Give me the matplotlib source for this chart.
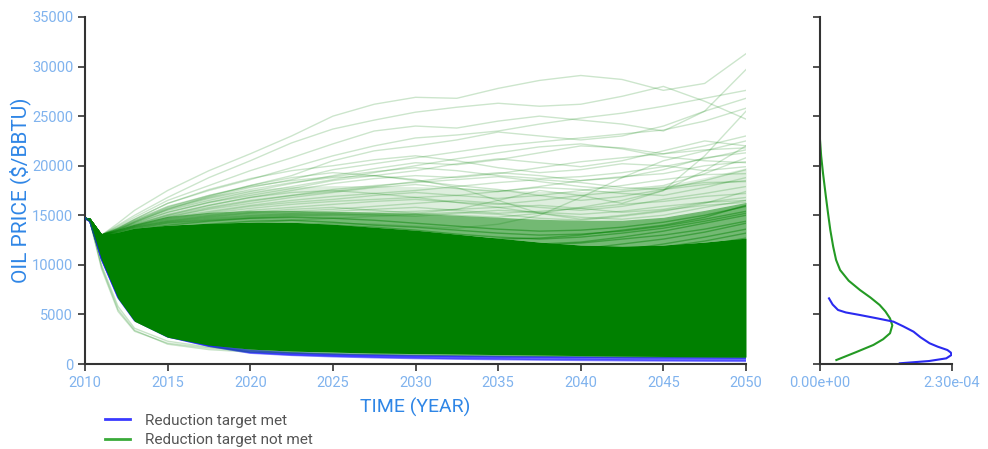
import matplotlib
matplotlib.use("Agg")
import matplotlib.pyplot as plt
from matplotlib.lines import Line2D

plt.rcParams['font.family'] = ['Roboto', 'DejaVu Sans']

# ---- time grid -------------------------------------------------------------
years = [2010, 2010.3, 2011, 2012, 2013, 2015, 2017.5, 2020, 2022.5, 2025,
         2027.5, 2030, 2032.5, 2035, 2037.5, 2040, 2042.5, 2045, 2047.5, 2050]
start_prices = [14700, 14600, 13000]   # common start of the upper paths (2010-2011)

# ---- bulk of the "target not met" ensemble --------------------------------
bulk_low = [14700, 14400, 10500, 6600, 4300, 2700, 1900, 1500, 1300, 1200,
            1100, 1050, 1000, 950, 900, 850, 800, 760, 730, 700]
bulk_core_top = [14700, 14600, 13000, 13300, 13700, 14000, 14200, 14300, 14300, 14100,
                 13800, 13500, 13100, 12700, 12300, 12000, 11900, 12000, 12300, 12700]
bulk_dense_top = [14700, 14600, 13000, 13600, 14100, 14900, 15300, 15500, 15500, 15400,
                  15300, 15200, 15000, 14800, 14600, 14500, 14500, 14800, 15500, 16300]
bulk_sparse_top = [14700, 14600, 13000, 13800, 14700, 16000, 17000, 17600, 17900, 18000,
                   18000, 17900, 17800, 17600, 17400, 17400, 17600, 18000, 18800, 19800]

# ---- individual high-price paths (2012..2050) ------------------------------
high_paths = [
    [14200, 15500, 17500, 19500, 21200, 23000, 25000, 26200, 26900, 26800, 27800, 28600, 29100, 28700, 27600, 28300, 31300],
    [14000, 15000, 16800, 18800, 20500, 22300, 23700, 24600, 25400, 25900, 26300, 26000, 26200, 27000, 28000, 26500, 24700],
    [13900, 14800, 16500, 18000, 19500, 20800, 22200, 23500, 24000, 23800, 24500, 25000, 24600, 24200, 23500, 25500, 29700],
    [13800, 14600, 16200, 17500, 18600, 19800, 21000, 22000, 22800, 23100, 23500, 24200, 24800, 25300, 26000, 26800, 27600],
    [13700, 14500, 15900, 17000, 18000, 19000, 20500, 21500, 22000, 22600, 23400, 23000, 22600, 23000, 24000, 25500, 26800],
    [13700, 14400, 15700, 16800, 17800, 18600, 19600, 20200, 20800, 21400, 22000, 22400, 22800, 23200, 23600, 24500, 25800],
    [13600, 14300, 15500, 16500, 17400, 18200, 19000, 19700, 20300, 20100, 20600, 21300, 22000, 21800, 21200, 22000, 23000],
    [13600, 14200, 15300, 16300, 17000, 17700, 18500, 19000, 19500, 20200, 20700, 20300, 19900, 20500, 21500, 22500, 22000],
    [13500, 14100, 15100, 16000, 16800, 17500, 18200, 18700, 19000, 18800, 19200, 19800, 20400, 20800, 21200, 21600, 21800],
    [13500, 14100, 15000, 15800, 16500, 17000, 17400, 17900, 18400, 18900, 19300, 19000, 18500, 18800, 19600, 20800, 21300],
    [13500, 14000, 14900, 15600, 16200, 16800, 17300, 17800, 18100, 17700, 17400, 17900, 18500, 18900, 19200, 20000, 20400],
    [13400, 14000, 14800, 15400, 16000, 16500, 16900, 17200, 17500, 17900, 18300, 18600, 18300, 17800, 17600, 18500, 19600],
    [13400, 13900, 14700, 15300, 15900, 16300, 16600, 17000, 17300, 17000, 16700, 17000, 17500, 18000, 18600, 19100, 19200],
    [13400, 13900, 14600, 15200, 15700, 16100, 16400, 16600, 16800, 17000, 17400, 17800, 17600, 17200, 17000, 17800, 18800],
    [13300, 13800, 14500, 15000, 15500, 15800, 16100, 16400, 16600, 16300, 16100, 16500, 17000, 17400, 17800, 18300, 18400],
    [13300, 13800, 14400, 14900, 15300, 15600, 15800, 15500, 15200, 15600, 16500, 17500, 17000, 16200, 17500, 21000, 25500],
    [13300, 13800, 14400, 14800, 15200, 15400, 15600, 15900, 16200, 16500, 16200, 15800, 15500, 15900, 16600, 17200, 17900],
    [13200, 13700, 14300, 14700, 15000, 15200, 15400, 15600, 15800, 15500, 15200, 15400, 15700, 16100, 16400, 16900, 17200],
    [13200, 13700, 14300, 14600, 14900, 15100, 15200, 15300, 15400, 15600, 15800, 16000, 15700, 15300, 15600, 16300, 16800],
    [13200, 13600, 14200, 14500, 14800, 15000, 15100, 15000, 14900, 15200, 15500, 15300, 15100, 15400, 15900, 16300, 16500],
    [13100, 13600, 14200, 14500, 14700, 14900, 15000, 15100, 15200, 15000, 14800, 15200, 15800, 16500, 17500, 19500, 22000],
    [13400, 14000, 15000, 16000, 16800, 17300, 17500, 17200, 16800, 16300, 15800, 15200, 14800, 14600, 15000, 15800, 16500],
    [13600, 14300, 15600, 16900, 18000, 18800, 19300, 19000, 18500, 18000, 17600, 17000, 16500, 16900, 17600, 18100, 18500],
    [13700, 14600, 16200, 17600, 18700, 19500, 20000, 20600, 21000, 20500, 19800, 19300, 19600, 20200, 20000, 19500, 19900],
    [13500, 14200, 15300, 16300, 17200, 17900, 18600, 19300, 20000, 20700, 21300, 21900, 22200, 21700, 20900, 20500, 20300],
    [13000, 13200, 13500, 13800, 14000, 14100, 14200, 14100, 13900, 13700, 14100, 15000, 16800, 18800, 20500, 21500, 22500],
    [13000, 13300, 13700, 14000, 14200, 14500, 14700, 14900, 15100, 15300, 15100, 14700, 14500, 14900, 15400, 16200, 17400],
    [13500, 14300, 15600, 16700, 17600, 18300, 18800, 19000, 18600, 17800, 16500, 15200, 14600, 15000, 15500, 16000, 16300],
    [13600, 14400, 15800, 17000, 17900, 18500, 18900, 19400, 19800, 19500, 19000, 18700, 18900, 19300, 19900, 20700, 21600],
    [13300, 13900, 14800, 15700, 16400, 17000, 17600, 18000, 18300, 18600, 18900, 18400, 17900, 17600, 18000, 19200, 20800],
]

# ---- paths inside the dense band (2012..2050) ------------------------------
mid_paths = [
    [13000, 13400, 13800, 14000, 14100, 14000, 13800, 13500, 13200, 12800, 12400, 12100, 12300, 12800, 13400, 14200, 15000],
    [12800, 13000, 13300, 13500, 13600, 13500, 13300, 13000, 12600, 12100, 11700, 11400, 11600, 12100, 12600, 13300, 14200],
    [12600, 12800, 13000, 13100, 13200, 13100, 12800, 12400, 12000, 11500, 11000, 10800, 11000, 11500, 12100, 12800, 13600],
    [12900, 13200, 13700, 14100, 14400, 14500, 14300, 14000, 13800, 13500, 13200, 13000, 13100, 13400, 13900, 14600, 15400],
    [12700, 12900, 13100, 13200, 13300, 13400, 13300, 13100, 12800, 12500, 12200, 12000, 12200, 12600, 13000, 13600, 14400],
    [12500, 12600, 12700, 12700, 12600, 12400, 12100, 11800, 11500, 11200, 10900, 10700, 10900, 11300, 11800, 12400, 13200],
    [13100, 13500, 14000, 14400, 14700, 14800, 14700, 14500, 14200, 13900, 13600, 13400, 13500, 13800, 14300, 15000, 15900],
    [12400, 12500, 12600, 12600, 12500, 12300, 12000, 11700, 11300, 10900, 10500, 10300, 10500, 10900, 11400, 12000, 12700],
    [13000, 13300, 13700, 13900, 14000, 13900, 13700, 13400, 13000, 12700, 12600, 12700, 13000, 13500, 14000, 14800, 16000],
    [12800, 13100, 13500, 13800, 14000, 14100, 14000, 13800, 13500, 13100, 12800, 12600, 12800, 13200, 13700, 14400, 15200],
]

# ---- faint paths that fall fastest -----------------------------------------
low_paths = [
    [14700, 14400, 9600, 5300, 3300, 2100, 1600, 1300, 1150, 1050, 980, 920, 870, 830, 800, 770, 740, 710, 690, 660],
    [14700, 14400, 10000, 5800, 3600, 2300, 1700, 1400, 1250, 1150, 1080, 1020, 970, 930, 890, 860, 830, 800, 780, 750],
    [14700, 14400, 9800, 5500, 3400, 2000, 1450, 1200, 1100, 1000, 950, 900, 860, 820, 790, 760, 730, 700, 680, 660],
]

# ---- "target met" paths ----------------------------------------------------
met_paths = [
    [14700, 14400, 10600, 6800, 4500, 2800, 1850, 1250, 1050, 920, 840, 780, 730, 690, 660, 630, 600, 580, 560, 540],
    [14700, 14400, 10600, 6700, 4400, 2750, 1800, 1150, 920, 800, 700, 620, 560, 510, 470, 440, 410, 390, 370, 350],
    [14700, 14400, 10700, 6900, 4600, 2900, 1950, 1400, 1150, 1020, 920, 860, 810, 770, 730, 700, 670, 650, 630, 610],
    [14700, 14400, 10600, 6800, 4500, 2800, 1850, 1200, 980, 850, 760, 690, 630, 590, 550, 510, 480, 450, 430, 410],
    [14700, 14400, 10600, 6700, 4400, 2750, 1800, 1100, 880, 740, 640, 560, 500, 450, 410, 370, 340, 310, 290, 270],
    [14700, 14400, 10700, 6900, 4600, 2900, 1950, 1350, 1100, 960, 870, 810, 770, 730, 700, 670, 650, 630, 610, 590],
]

# ---- distribution of 2050 prices -------------------------------------------
kde_not_met_price = [400, 1200, 1920, 2500, 3100, 3900, 4600, 5300, 5950, 6700, 7460,
                     8400, 9480, 10500, 11830, 13500, 15200, 17000, 19260, 21000, 22600]
kde_not_met_density = [2.85e-5, 6.3e-5, 9.3e-5, 1.1e-4, 1.22e-4, 1.26e-4, 1.22e-4, 1.14e-4,
                       1.04e-4, 8.8e-5, 6.97e-5, 5.0e-5, 3.5e-5, 2.8e-5, 2.3e-5, 1.8e-5,
                       1.4e-5, 1.0e-5, 5.2e-6, 2.0e-6, 0.0]
kde_met_price = [70, 300, 570, 910, 1150, 1410, 1750, 2090, 2700, 3260, 3800, 4270,
                 4600, 4940, 5200, 5450, 6000, 6620]
kde_met_density = [1.39e-4, 1.9e-4, 2.2e-4, 2.29e-4, 2.28e-4, 2.22e-4, 2.05e-4, 1.91e-4,
                   1.75e-4, 1.63e-4, 1.45e-4, 1.28e-4, 1.0e-4, 6.97e-5, 4.5e-5, 3.14e-5,
                   2.2e-5, 1.57e-5]

y_ticks = [0, 5000, 10000, 15000, 20000, 25000, 30000, 35000]
x_ticks = [2010, 2015, 2020, 2025, 2030, 2035, 2040, 2045, 2050]
density_ticks = [0.0, 2.3e-4]
density_tick_labels = ["0.00e+00", "2.30e-04"]
legend_labels = ["Reduction target met", "Reduction target not met"]

# ---- styling ---------------------------------------------------------------
GREEN = "#008000"
BLUE = "#1a1aff"
TICK_TEXT = "#80b3ee"
LABEL_TEXT = "#2f86e6"
SPINE = "#333333"

fig = plt.figure(figsize=(9.88, 4.49), dpi=100)
ax = fig.add_axes([85 / 988, 85 / 449, 661 / 988, 347 / 449])
kde_ax = fig.add_axes([820 / 988, 85 / 449, 132 / 988, 347 / 449])

# layered density of the ensemble: sparse halo, dense band, opaque core
ax.fill_between(years, bulk_dense_top, bulk_sparse_top, color=GREEN, alpha=0.13,
                linewidth=0, zorder=1)
ax.fill_between(years, bulk_core_top, bulk_dense_top, color=GREEN, alpha=0.55,
                linewidth=0, zorder=2)
for p in high_paths:
    ax.plot(years, start_prices + p, color=GREEN, alpha=0.2, linewidth=1.0, zorder=3)
for p in mid_paths:
    ax.plot(years, start_prices + p, color=GREEN, alpha=0.45, linewidth=1.0, zorder=3)
for p in met_paths:
    ax.plot(years, p, color=BLUE, alpha=0.5, linewidth=1.2, zorder=3.5)
for p in low_paths:
    ax.plot(years, p, color=GREEN, alpha=0.22, linewidth=1.0, zorder=3.6)
ax.fill_between(years, bulk_low, bulk_core_top, color=GREEN, alpha=1.0,
                linewidth=0, zorder=4)

ax.set_xlim(2010, 2050)
ax.set_ylim(0, 35000)
ax.set_xticks(x_ticks)
ax.set_yticks(y_ticks)
ax.set_xlabel("TIME (YEAR)", fontsize=14, color=LABEL_TEXT, labelpad=6)
ax.set_ylabel("OIL PRICE ($/BBTU)", fontsize=15, color=LABEL_TEXT, labelpad=1)

# density of final prices
kde_ax.plot(kde_not_met_density, kde_not_met_price, color="#249a24", linewidth=1.5)
kde_ax.plot(kde_met_density, kde_met_price, color="#2a2af0", linewidth=1.5)
kde_ax.set_xlim(0, 2.3e-4)
kde_ax.set_ylim(0, 35000)
kde_ax.set_xticks(density_ticks)
kde_ax.set_xticklabels(density_tick_labels)
kde_ax.set_yticks(y_ticks)
kde_ax.set_yticklabels([])

for a in (ax, kde_ax):
    for side in ("top", "right"):
        a.spines[side].set_visible(False)
    for side in ("left", "bottom"):
        a.spines[side].set_color(SPINE)
        a.spines[side].set_linewidth(1.5)
    a.tick_params(colors=SPINE, labelcolor=TICK_TEXT, labelsize=10.5,
                  length=5, width=1.2)

handles = [Line2D([], [], color="#3a3aff", linewidth=2),
           Line2D([], [], color="#3aaa3a", linewidth=2)]
fig.legend(handles, legend_labels, loc="upper left",
           bbox_to_anchor=(100 / 988, 1 - 409 / 449), frameon=False,
           fontsize=11, handlelength=1.65, handletextpad=1.0, labelspacing=0.38,
           labelcolor="#555555", borderaxespad=0, borderpad=0.3)

fig.savefig("out.png", dpi=100)
